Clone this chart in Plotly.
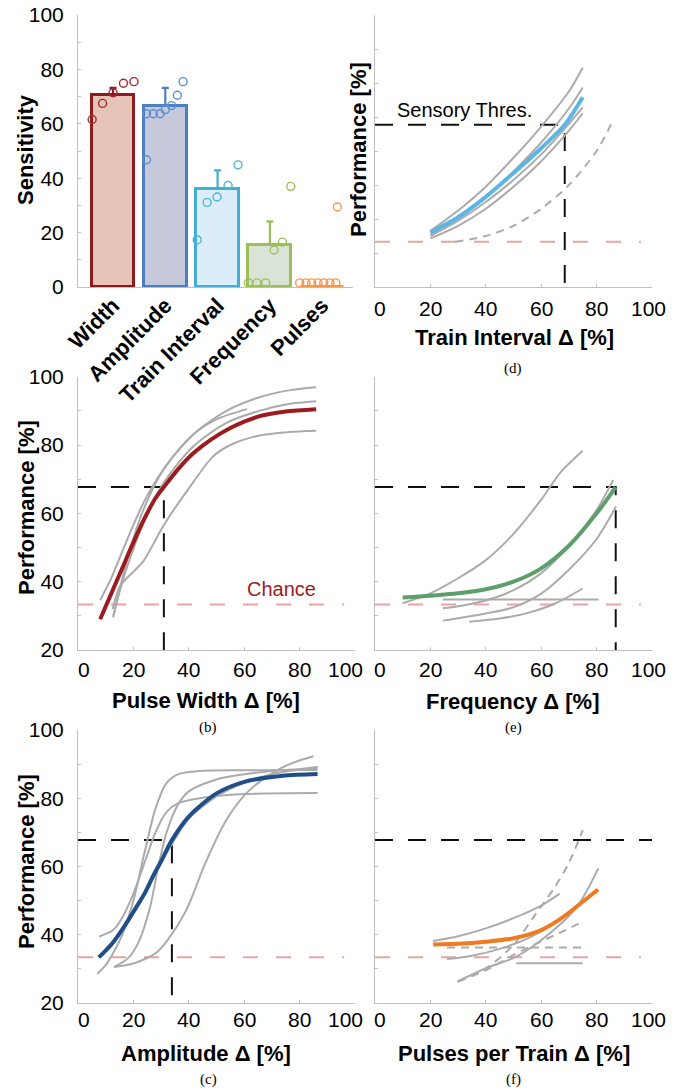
import plotly.graph_objects as go

W, H = 686, 1090

# ---------------- data: panel (a) sensitivity ----------------
categories = ["Width", "Amplitude", "Train Interval", "Frequency", "Pulses"]
sens_mean = [70.5, 66.7, 36.2, 15.6, 0.0]
sens_err_up = [2.7, 6.5, 6.7, 8.5, 0.0]
width_pts = [61.6, 67.5, 71.4, 74.9, 75.5]
width_jit = [-0.40, -0.20, 0.0, 0.20, 0.40]
amplitude_pts = [46.8, 63.7, 63.7, 63.7, 65.2, 66.7, 70.5, 75.5]
amplitude_jit = [-0.36, -0.36, -0.23, -0.10, 0.0, 0.12, 0.23, 0.34]
interval_pts = [17.3, 31.1, 33.1, 37.3, 44.9]
interval_jit = [-0.39, -0.20, -0.01, 0.20, 0.39]
frequency_pts = [1.5, 1.5, 1.5, 13.6, 16.5, 37.0]
frequency_jit = [-0.41, -0.25, -0.08, 0.08, 0.24, 0.40]
pulses_pts = [1.5, 1.5, 1.5, 1.5, 1.5, 1.5, 1.5, 29.4]
pulses_jit = [-0.43, -0.31, -0.20, -0.08, 0.03, 0.15, 0.26, 0.29]

# ---------------- data: psychometric curves ----------------
chance = 33.3
threshold_perf = 67.7
x_ticks = [0, 20, 40, 60, 80, 100]

# (b) pulse width
pw_mean_x = [8, 12, 16, 20, 24, 28, 31, 36, 41.5, 48, 55, 65, 75, 86]
pw_mean_y = [29, 36.5, 44, 51.5, 58.5, 64.5, 67.7, 72.8, 77.5, 81.6, 85, 88.3, 89.8, 90.5]
pw_thr_x = 31.0
pw_s1_x = [8, 12, 17.6, 23.6, 31, 41.5, 53.6, 65.5, 76, 86]
pw_s1_y = [34.6, 41, 52, 63, 73, 83, 90, 94, 96, 96.9]
pw_s2_x = [12.7, 15, 17.6, 23.6, 31, 41.5, 53.6, 65.5, 76, 86]
pw_s2_y = [30, 37, 44, 57, 69, 79.5, 86.5, 90, 92, 92.8]
pw_s3_x = [12.7, 17.6, 23.6, 31, 41.5, 50, 61]
pw_s3_y = [29.5, 46, 61, 73, 83, 87.5, 90.5]
pw_s4_x = [12.5, 15, 17.6, 23.6, 31, 40, 48.7, 55, 65.5, 76, 86]
pw_s4_y = [32, 38.5, 41, 46, 56.6, 67.3, 76.6, 80, 82.8, 83.8, 84.2]

# (c) amplitude
am_mean_x = [7.5, 12, 16, 20, 24, 27, 30, 33.9, 40, 50, 60, 74, 86.5]
am_mean_y = [33.3, 37, 41.5, 46.7, 52, 57, 61.5, 67.7, 74.6, 81.4, 84.8, 86.6, 87.1]
am_thr_x = 33.9
am_s1_x = [7, 10, 13, 16, 20, 24, 28, 32, 36, 44, 60, 86.5]
am_s1_y = [28.5, 31, 35, 40, 50, 64, 77, 84.5, 87, 88, 88.2, 88.3]
am_s2_x = [7.6, 12.7, 16, 20, 24, 28, 32, 36, 44, 60, 86.5]
am_s2_y = [39.4, 41.3, 45, 52, 61, 70, 76, 78.5, 80, 81.2, 81.5]
am_s3_x = [13, 20, 28, 32, 39, 46, 53.5, 60.7, 70, 78, 85]
am_s3_y = [30.5, 31.5, 34.5, 38, 47, 61, 73.5, 81.4, 87.3, 90.5, 92.3]
am_s4_x = [13, 18, 22, 26, 29, 32, 36, 40, 50, 60, 70, 86.5]
am_s4_y = [30.5, 33, 38, 48, 60, 70, 78, 82, 85.5, 87, 88, 88.8]
am_s5_x = [10, 15, 20, 25, 30, 35, 40, 50, 60, 70, 86.5]
am_s5_y = [36, 40, 46, 53, 61, 68, 74, 80.5, 84.5, 87, 89.2]

# (d) train interval
ti_mean_x = [20, 30, 40, 50, 60, 68.5, 75]
ti_mean_y = [36, 40.5, 46.5, 53.5, 60.8, 67.7, 75.8]
ti_thr_x = 68.5
ti_s1_x = [20, 30, 40, 50, 60, 70, 75]
ti_s1_y = [36.5, 42.5, 49.5, 58, 67.2, 77.5, 84.5]
ti_s2_x = [20, 30, 40, 50, 60, 70, 75]
ti_s2_y = [35.5, 40.5, 46.5, 54, 62.5, 72.5, 78.7]
ti_s3_x = [20, 30, 40, 50, 60, 70, 75]
ti_s3_y = [35, 39.5, 45, 51.5, 59, 68, 72.8]
ti_s4_x = [20, 30, 40, 50, 60, 70, 75]
ti_s4_y = [34.3, 38, 43, 49.5, 57, 66, 71.1]
ti_s5_x = [29, 40, 50, 60, 70, 80, 85.5]   # dashed
ti_s5_y = [33.3, 35, 38, 43, 50, 60, 68.3]

# (e) frequency
fr_mean_x = [10, 20, 30, 40, 50, 60, 70, 80, 86.9]
fr_mean_y = [35.4, 35.9, 36.6, 37.8, 40, 43.9, 50.5, 60, 67.7]
fr_thr_x = 86.9
fr_s1_x = [10, 20, 30, 40, 50, 60, 67, 75]
fr_s1_y = [33.7, 36.6, 41, 46.3, 54, 64, 72, 78.3]
fr_s2_x = [24.5, 80.7]
fr_s2_y = [34.8, 34.8]
fr_s3_x = [24.5, 30, 40, 50, 60, 70, 80, 86]
fr_s3_y = [32.2, 32.8, 34.5, 37.5, 42.5, 50.5, 61, 69.8]
fr_s4_x = [24.5, 40, 50, 60, 70, 80, 87]
fr_s4_y = [28.6, 30.7, 32.5, 36.5, 43.5, 52.5, 62]
fr_s5_x = [34, 45, 55, 65, 75]
fr_s5_y = [28.3, 29.2, 30.8, 33.6, 38]

# (f) pulses per train
pp_mean_x = [21, 30, 40, 50, 60, 68, 75, 80.5]
pp_mean_y = [37.1, 37.3, 37.9, 38.9, 41.3, 45.2, 49.6, 53.2]
pp_s1_x = [21, 30, 40, 50, 60, 66.7]
pp_s1_y = [38.1, 39.5, 41.8, 44.8, 48.5, 52]
pp_s2_x = [26, 35, 45, 55, 65, 75]
pp_s2_y = [32.8, 33.8, 35.8, 38.8, 43.5, 50]
pp_s3_x = [29.7, 40, 51, 63, 73, 80.6]
pp_s3_y = [26.2, 30.1, 33.5, 40.3, 48.2, 59.4]
pp_s4_x = [51, 75]
pp_s4_y = [31.6, 31.6]
pp_s5_x = [26, 75]           # dashed
pp_s5_y = [36.2, 36.2]
pp_s6_x = [30, 40, 50, 58, 65, 70, 75]   # dashed
pp_s6_y = [26.2, 30, 37, 46, 54, 61, 70.6]
pp_s7_x = [30, 40, 50, 60, 68, 75]       # dashed
pp_s7_y = [26.2, 29.5, 34, 38, 41, 43.8]

# ---------------- styles ----------------
FONT = "Liberation Sans"
AX = "#BFBFBF"
GRAY = "#ABABAB"
bar_fill = ["#E6C4B8", "#C6C9DC", "#DCEDFA", "#DAE4D6", "#FDE3CF"]
bar_line = ["#8C1A1E", "#4E7FC2", "#43AFD0", "#9CBF5A", "#F79646"]
pt_color = ["#A42A32", "#5B8FD0", "#4BB5D8", "#9CBF5A", "#F79646"]

fig = go.Figure()

# ---------------- panel (a) ----------------
fig.add_trace(go.Bar(
    x=list(range(len(categories))), y=sens_mean, width=0.82,
    marker=dict(color=bar_fill, line=dict(color=bar_line, width=3)),
    xaxis="x", yaxis="y", showlegend=False, hoverinfo="skip"))
for i in range(len(categories)):
    if sens_err_up[i] > 0:
        fig.add_trace(go.Scatter(
            x=[i], y=[sens_mean[i]], mode="markers",
            marker=dict(size=1, color="rgba(0,0,0,0)"),
            error_y=dict(type="data", symmetric=False, array=[sens_err_up[i]],
                         arrayminus=[0], color=bar_line[i], thickness=2.2, width=3.5),
            xaxis="x", yaxis="y", showlegend=False, hoverinfo="skip"))

groups = [(width_pts, width_jit), (amplitude_pts, amplitude_jit),
          (interval_pts, interval_jit), (frequency_pts, frequency_jit),
          (pulses_pts, pulses_jit)]
for i, (vals, jit) in enumerate(groups):
    fig.add_trace(go.Scatter(
        x=[i + j for j in jit], y=vals, mode="markers",
        marker=dict(symbol="circle-open", size=8, color=pt_color[i],
                    line=dict(width=1.4, color=pt_color[i])),
        cliponaxis=False, xaxis="x", yaxis="y", showlegend=False, hoverinfo="skip"))


def add_line(x, y, xa, ya, color=GRAY, width=2.0, dash="solid"):
    fig.add_trace(go.Scatter(
        x=x, y=y, mode="lines", line=dict(color=color, width=width, dash=dash,
                                           shape="spline", smoothing=0.8),
        xaxis=xa, yaxis=ya, showlegend=False, hoverinfo="skip"))


def add_guides(xa, ya, thr_x, hline_end=100):
    fig.add_trace(go.Scatter(
        x=[0, 96], y=[chance, chance], mode="lines",
        line=dict(color="#E8A3A3", width=2, dash="15px,18px"),
        xaxis=xa, yaxis=ya, showlegend=False, hoverinfo="skip"))
    if thr_x is None:
        hx, hy = [0, hline_end], [threshold_perf, threshold_perf]
    else:
        hx = [0, thr_x, thr_x]
        hy = [threshold_perf, threshold_perf, 20]
    fig.add_trace(go.Scatter(
        x=hx, y=hy, mode="lines",
        line=dict(color="#111111", width=2, dash="18px,15px"),
        xaxis=xa, yaxis=ya, showlegend=False, hoverinfo="skip"))


# (d) train interval -> x2/y2
add_guides("x2", "y2", ti_thr_x)
for sx, sy in [(ti_s1_x, ti_s1_y), (ti_s2_x, ti_s2_y), (ti_s3_x, ti_s3_y), (ti_s4_x, ti_s4_y)]:
    add_line(sx, sy, "x2", "y2")
add_line(ti_s5_x, ti_s5_y, "x2", "y2", dash="8px,6px")
add_line(ti_mean_x, ti_mean_y, "x2", "y2", color="#5BB5E5", width=4)

# (b) pulse width -> x3/y3
add_guides("x3", "y3", pw_thr_x)
for sx, sy in [(pw_s1_x, pw_s1_y), (pw_s2_x, pw_s2_y), (pw_s3_x, pw_s3_y), (pw_s4_x, pw_s4_y)]:
    add_line(sx, sy, "x3", "y3")
add_line(pw_mean_x, pw_mean_y, "x3", "y3", color="#9B1B1F", width=4)

# (e) frequency -> x4/y4
add_guides("x4", "y4", fr_thr_x)
for sx, sy in [(fr_s1_x, fr_s1_y), (fr_s2_x, fr_s2_y), (fr_s3_x, fr_s3_y),
               (fr_s4_x, fr_s4_y), (fr_s5_x, fr_s5_y)]:
    add_line(sx, sy, "x4", "y4")
add_line(fr_mean_x, fr_mean_y, "x4", "y4", color="#5E9E6A", width=4)

# (c) amplitude -> x5/y5
add_guides("x5", "y5", am_thr_x)
for sx, sy in [(am_s1_x, am_s1_y), (am_s2_x, am_s2_y), (am_s3_x, am_s3_y),
               (am_s4_x, am_s4_y), (am_s5_x, am_s5_y)]:
    add_line(sx, sy, "x5", "y5")
add_line(am_mean_x, am_mean_y, "x5", "y5", color="#1F4E89", width=4)

# (f) pulses per train -> x6/y6
add_guides("x6", "y6", None)
for sx, sy in [(pp_s1_x, pp_s1_y), (pp_s2_x, pp_s2_y), (pp_s3_x, pp_s3_y), (pp_s4_x, pp_s4_y)]:
    add_line(sx, sy, "x6", "y6")
for sx, sy in [(pp_s5_x, pp_s5_y), (pp_s6_x, pp_s6_y), (pp_s7_x, pp_s7_y)]:
    add_line(sx, sy, "x6", "y6", dash="8px,6px")
add_line(pp_mean_x, pp_mean_y, "x6", "y6", color="#F07A22", width=4)


# ---------------- axes ----------------
def px_dom(a, b):
    return [a / W, b / W]


def py_dom(top, bottom):
    return [1 - bottom / H, 1 - top / H]


tickfont = dict(family=FONT, size=21, color="#000000")
perf_vals = list(range(20, 101, 10))
perf_text = [str(v) if v % 20 == 0 else "" for v in perf_vals]


def perf_x(dom, anchor):
    return dict(domain=dom, anchor=anchor, range=[0, 100], showgrid=False, zeroline=False,
                showline=True, linecolor=AX, linewidth=1, ticks="inside", ticklen=3,
                tickcolor=AX, tickvals=x_ticks, showticklabels=False, automargin=False)


def perf_y(dom, anchor, labels):
    return dict(domain=dom, anchor=anchor, range=[20, 100], showgrid=False, zeroline=False,
                showline=True, linecolor=AX, linewidth=1, ticks="inside", ticklen=3,
                tickcolor=AX, tickvals=perf_vals, ticktext=perf_text, automargin=False,
                showticklabels=labels, tickfont=tickfont, ticklabelstandoff=9)


left_x = px_dom(78, 355)
right_x = px_dom(375, 652)
row1 = py_dom(15, 287)
row2 = py_dom(376.7, 650)
row3 = py_dom(730, 1002.7)

sens_vals = list(range(0, 101, 10))
fig.update_layout(
    width=W, height=H, margin=dict(l=0, r=0, t=0, b=0, pad=0, autoexpand=False),
    paper_bgcolor="white", plot_bgcolor="white", showlegend=False, bargap=0,
    font=dict(family=FONT, color="#000000"),
    xaxis=dict(domain=px_dom(78, 353), anchor="y", range=[-0.67, 4.59], automargin=False,
               showgrid=False, zeroline=False, showline=True, linecolor=AX, linewidth=1,
               tickvals=list(range(len(categories))), ticktext=categories, tickangle=-45,
               ticks="", ticklabelstandoff=-4,
               tickfont=dict(family=FONT, size=22, color="#000000", weight="bold")),
    yaxis=dict(domain=row1, anchor="x", range=[0, 100], showgrid=False, zeroline=False,
               showline=True, linecolor=AX, linewidth=1, ticks="inside", ticklen=3,
               tickcolor=AX, tickvals=sens_vals, automargin=False,
               ticktext=[str(v) if v % 20 == 0 else "" for v in sens_vals],
               tickfont=tickfont, ticklabelstandoff=9),
    xaxis2=perf_x(right_x, "y2"), yaxis2=perf_y(row1, "x2", False),
    xaxis3=perf_x(left_x, "y3"), yaxis3=perf_y(row2, "x3", True),
    xaxis4=perf_x(right_x, "y4"), yaxis4=perf_y(row2, "x4", False),
    xaxis5=perf_x(left_x, "y5"), yaxis5=perf_y(row3, "x5", True),
    xaxis6=perf_x(right_x, "y6"), yaxis6=perf_y(row3, "x6", False),
)

# x tick labels of the performance panels (end labels nudged inward as in the original)
for xa, label_y, left in [("x2", 308, False), ("x3", 669, True), ("x4", 669, False),
                          ("x5", 1019, True), ("x6", 1019, False)]:
    for v in x_ticks:
        shift = 0
        if v == 0:
            shift = 6 if left else 5
        elif v == 100:
            shift = -10 if left else -4
        fig.add_annotation(text=str(v), x=v, xref=xa, y=1 - label_y / H, yref="paper",
                           xanchor="center", yanchor="middle", xshift=shift,
                           showarrow=False, font=tickfont)

# ---------------- text ----------------
bold22 = dict(family=FONT, size=22, color="#000000", weight="bold")
serif = dict(family="Liberation Serif", size=15, color="#000000")


def ann(text, x, y, font, angle=0):
    fig.add_annotation(text=text, x=x / W, y=1 - y / H, xref="paper", yref="paper",
                       xanchor="center", yanchor="middle", showarrow=False,
                       font=font, textangle=angle)


ann("Sensitivity", 25, 150, bold22, -90)
ann("Performance [%]", 358, 150, bold22, -90)
ann("Performance [%]", 26, 508, bold22, -90)
ann("Performance [%]", 26, 862, bold22, -90)
ann("Train Interval Δ [%]", 514, 337, bold22)
ann("Pulse Width Δ [%]", 206, 700, bold22)
ann("Frequency Δ [%]", 513, 701, bold22)
ann("Amplitude Δ [%]", 206, 1053, bold22)
ann("Pulses per Train Δ [%]", 514, 1053, bold22)
ann("(d)", 513, 368, serif)
ann("(b)", 208, 727, serif)
ann("(e)", 513, 727, serif)
ann("(c)", 208, 1079, serif)
ann("(f)", 513, 1079, serif)

fig.add_annotation(text="Sensory Thres.", x=32.3, y=72.0, xref="x2", yref="y2",
                   showarrow=False, xanchor="center", yanchor="middle",
                   font=dict(family=FONT, size=20, color="#000000"))
fig.add_annotation(text="Chance", x=73.4, y=37.9, xref="x3", yref="y3",
                   showarrow=False, xanchor="center", yanchor="middle",
                   font=dict(family=FONT, size=20, color="#9B1B1F"))

fig.write_html("out.html")
